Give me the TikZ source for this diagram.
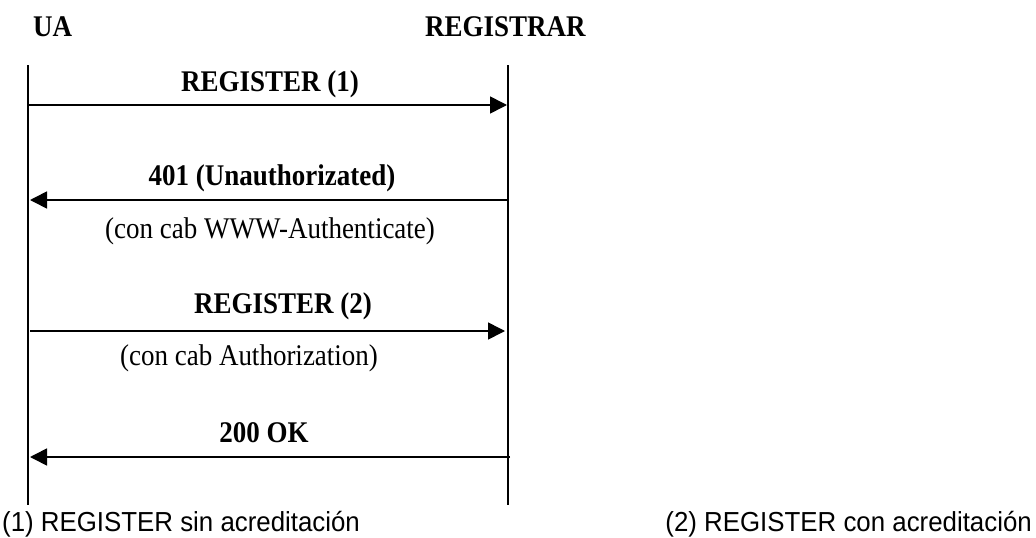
\documentclass[tikz,border=0pt]{standalone}
\usepackage{fontspec}
\setmainfont{Liberation Serif}[FakeStretch=0.9]
\newfontfamily\arialf{Liberation Sans}[FakeStretch=0.94]
\usetikzlibrary{arrows.meta}
\tikzset{
  life/.style={line width=1.6pt},
  msg/.style={line width=1.6pt,-{Triangle[length=17pt,width=17pt]}},
  boldlbl/.style={inner sep=0pt,font=\fontsize{30}{33}\selectfont\bfseries},
  plainlbl/.style={inner sep=0pt,font=\fontsize{30}{33}\selectfont},
  notelbl/.style={inner sep=0pt,font=\arialf\fontsize{27.5}{30}\selectfont},
}
\begin{document}
\begin{tikzpicture}[x=1pt,y=-1pt]
\useasboundingbox[fill=white] (0,0) rectangle (1036,538);
% headers
\node[boldlbl,anchor=west] (ua) at (33,27) {UA};
\node[boldlbl,anchor=west] (reg) at (425,27) {REGISTRAR};
% lifelines
\coordinate (Lt) at (28,65);
\coordinate (Lb) at (28,505);
\coordinate (Rt) at (508,65);
\coordinate (Rb) at (508,505);
\draw[life] (Lt) -- (Lb);
\draw[life] (Rt) -- (Rb);
% message endpoints
\coordinate (m1a) at (28,105);  \coordinate (m1b) at (507,105);
\coordinate (m2a) at (508,200); \coordinate (m2b) at (30,200);
\coordinate (m3a) at (30,331);  \coordinate (m3b) at (505,331);
\coordinate (m4a) at (510,457); \coordinate (m4b) at (30,457);
\draw[msg] (m1a) -- (m1b);
\draw[msg] (m2a) -- (m2b);
\draw[msg] (m3a) -- (m3b);
\draw[msg] (m4a) -- (m4b);
% labels
\node[boldlbl] (l1) at (270,84) {REGISTER (1)};
\node[boldlbl] (l2) at (272,178) {401 (Unauthorizated)};
\node[plainlbl] (l2b) at (270,231) {(con cab WWW-Authenticate)};
\node[boldlbl] (l3) at (283,306) {REGISTER (2)};
\node[plainlbl] (l3b) at (249,358) {(con cab Authorization)};
\node[boldlbl] (l4) at (264,433) {200 OK};
% notes
\node[notelbl,anchor=west] (n1) at (2,524) {(1) REGISTER sin acreditación};
\node[notelbl,anchor=east] (n2) at (1032,524) {(2) REGISTER con acreditación};
\end{tikzpicture}
\end{document}
